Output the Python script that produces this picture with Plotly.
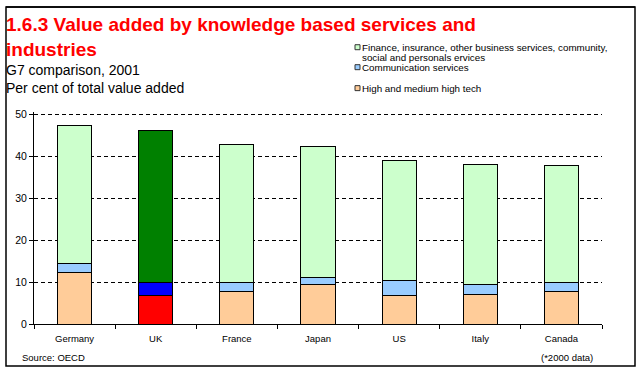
import plotly.graph_objects as go

countries = ["Germany", "UK", "France", "Japan", "US", "Italy", "Canada"]
high_tech = [12.2, 6.7, 7.7, 9.4, 6.8, 7.0, 7.7]
communication = [2.2, 3.2, 2.2, 1.65, 3.55, 2.4, 2.3]
finance = [32.8, 36.2, 32.9, 31.25, 28.65, 28.7, 27.8]

series_names = [
    "High and medium high tech",
    "Communication services",
    "Finance, insurance, other business services, community, social and personals ervices",
]
legend_lines = [
    ["High and medium high tech"],
    ["Communication services"],
    ["Finance, insurance, other business services, community,", "social and personals ervices"],
]
base_colors = ["#FFCC99", "#99CCFF", "#CCFFCC"]
uk_colors = ["#FF0000", "#0000FF", "#008000"]

W, H = 640, 371
L, R, T, B = 34, 38, 111.6, 47
PW, PH = W - L - R, H - T - B
FONT = "Liberation Sans, Arial, sans-serif"


def px(x):
    return (x - L) / PW


def py(y):
    return (H - B - y) / PH


fig = go.Figure()
for vals, name, col, ukc in zip([high_tech, communication, finance], series_names, base_colors, uk_colors):
    colors = [ukc if c == "UK" else col for c in countries]
    fig.add_trace(go.Bar(
        x=countries, y=vals, name=name,
        marker=dict(color=colors, line=dict(color="black", width=1)),
        showlegend=False,
    ))

fig.update_layout(
    width=W, height=H,
    barmode="stack", bargap=0.58,
    margin=dict(l=L, r=R, t=T, b=B, pad=0),
    paper_bgcolor="white", plot_bgcolor="white",
    font=dict(family=FONT, color="black", size=10),
    xaxis=dict(
        showline=True, linecolor="black", linewidth=1,
        ticks="outside", tickson="boundaries", ticklen=4, tickcolor="black",
        tickfont=dict(size=9.5), ticklabelstandoff=6, showgrid=False, fixedrange=True,
    ),
    yaxis=dict(
        range=[0, 50.5], tickvals=[0, 10, 20, 30, 40, 50], showline=True, linecolor="black", linewidth=1,
        ticks="outside", ticklen=4, tickcolor="black",
        showgrid=True, gridcolor="black", griddash="4px,3px", gridwidth=1,
        zeroline=False, tickfont=dict(size=10.5), fixedrange=True,
    ),
)

frame = dict(color="black", width=1.5)
TOP = 6.5
shapes = [
    dict(type="rect", xref="paper", yref="paper", x0=px(6), x1=px(635), y0=py(TOP), y1=py(366),
         line=frame, fillcolor="rgba(0,0,0,0)", layer="below"),
    dict(type="line", xref="paper", yref="paper", x0=px(6), x1=px(635), y0=py(TOP), y1=py(TOP), line=frame),
]

annotations = [
    dict(text="1.6.3 Value added by knowledge based services and<br>industries",
         x=px(5), y=py(12), xanchor="left", yanchor="top", align="left",
         font=dict(size=19, color="#FF0000", family=FONT, weight="bold")),
    dict(text="G7 comparison, 2001", x=px(5), y=py(70), xanchor="left", yanchor="middle",
         font=dict(size=14, family=FONT)),
    dict(text="Per cent of total value added", x=px(5), y=py(88), xanchor="left", yanchor="middle",
         font=dict(size=14, family=FONT)),
    dict(text="Source: OECD", x=px(21), y=py(358), xanchor="left", yanchor="middle",
         font=dict(size=9.5, family=FONT)),
    dict(text="(*2000 data)", x=px(594), y=py(358), xanchor="right", yanchor="middle",
         font=dict(size=9.5, family=FONT)),
]

legend_rows = [(2, 46.7), (1, 66.7), (0, 87.7)]
for idx, yc in legend_rows:
    shapes.append(dict(type="rect", xref="paper", yref="paper",
                       x0=px(355), x1=px(360), y0=py(yc - 2.5), y1=py(yc + 2.5),
                       fillcolor=base_colors[idx], line=dict(color="#333333", width=1)))
    for k, line in enumerate(legend_lines[idx]):
        annotations.append(dict(text=line, x=px(361), y=py(yc + 10.3 * k), xanchor="left",
                                yanchor="middle", align="left",
                                font=dict(size=9.8, family=FONT)))

for a in annotations:
    a.update(xref="paper", yref="paper", showarrow=False)
    a.setdefault("borderpad", 0)

fig.update_layout(shapes=shapes, annotations=annotations)
fig.write_html("out.html", config={"displayModeBar": False},
               post_script="document.body.style.margin='0';document.body.style.padding='0';")
